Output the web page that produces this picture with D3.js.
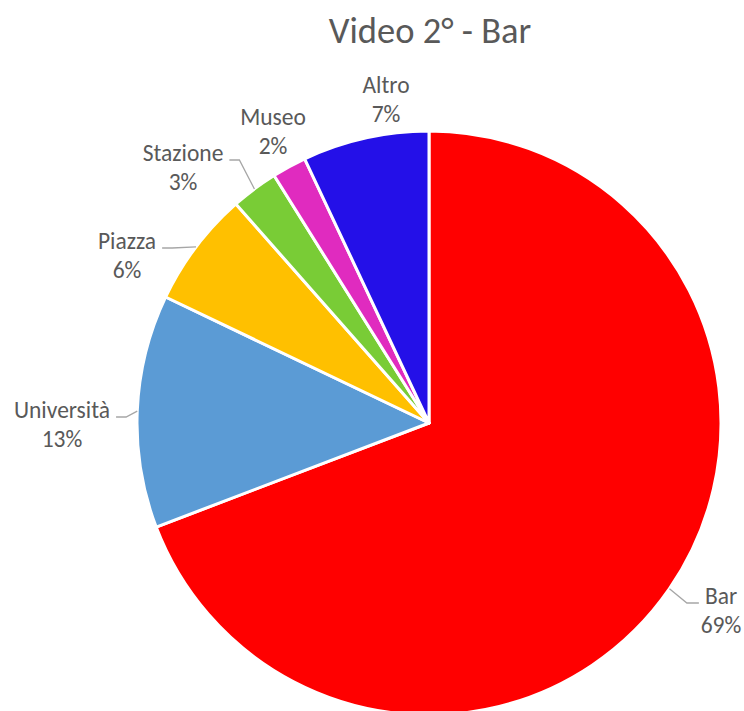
<!DOCTYPE html>
<html>
<head>
<meta charset="utf-8">
<script src="https://cdn.jsdelivr.net/npm/d3@7/dist/d3.min.js"></script>
<style>
  html, body { margin: 0; padding: 0; background: #ffffff; }
  svg { display: block; font-family: Calibri, Carlito, Lato, "Open Sans", sans-serif; }
</style>
</head>
<body>
<svg id="chart" width="744" height="711"></svg>
<script>
// Destinations seen in the second video (share of responses, %)
const categories = ["Bar", "Università", "Piazza", "Stazione", "Museo", "Altro"];
const values = [69.2, 12.9, 6.4, 2.6, 1.9, 7.0];
const colors = ["#ff0000", "#5b9bd5", "#ffc000", "#79cc36", "#e02bbf", "#2410e8"];
const title = "Video 2° - Bar";

// Label placement: centre x and first-line baseline, and whether a leader line is drawn
const labelPos = [
  { x: 721, y: 604, leader: true },
  { x: 62, y: 418, leader: true },
  { x: 127, y: 249, leader: true },
  { x: 183, y: 161, leader: true },
  { x: 273, y: 125, leader: false },
  { x: 386, y: 93, leader: false }
];

const svg = d3.select("#chart");
const cx = 429, cy = 423, radius = 292;

svg.append("text")
  .attr("x", 430).attr("y", 43)
  .attr("text-anchor", "middle")
  .attr("fill", "#595959")
  .attr("font-size", 36.5)
  .text(title);

const total = d3.sum(values);
const data = categories.map((c, i) => ({ name: c, value: values[i], color: colors[i], pos: labelPos[i] }));

const pie = d3.pie().value(d => d.value).sort(null);
const arcs = pie(data);
const arc = d3.arc().innerRadius(0).outerRadius(radius);

const g = svg.append("g").attr("transform", `translate(${cx},${cy})`);

g.selectAll("path.slice")
  .data(arcs)
  .join("path")
  .attr("class", "slice")
  .attr("d", arc)
  .attr("fill", d => d.data.color)
  .attr("stroke", "#ffffff")
  .attr("stroke-width", 3)
  .attr("stroke-linejoin", "round");

// Category and percentage labels
const leaderArc = d3.arc().innerRadius(radius).outerRadius(radius);
arcs.forEach(a => {
  const p = a.data.pos;
  const t = svg.append("text")
    .attr("text-anchor", "middle")
    .attr("fill", "#595959")
    .attr("font-size", 23.5);
  const first = t.append("tspan").attr("x", p.x).attr("y", p.y).text(a.data.name);
  t.append("tspan").attr("x", p.x).attr("y", p.y + 29)
    .text(Math.round(a.data.value / total * 100) + "%");

  // Leader line: arc midpoint -> elbow -> short horizontal stub beside the label
  if (!p.leader) return;
  const half = first.node().getComputedTextLength() / 2;
  const [ex, ey] = leaderArc.centroid(a);
  const ly = p.y - 1 - cy;
  const onRight = (p.x - cx) > ex;
  const stubEnd = onRight ? p.x - half - 6 - cx : p.x + half + 6 - cx;
  const stubStart = onRight ? stubEnd - 12 : stubEnd + 10;
  g.append("polyline")
    .attr("points", [[ex, ey], [stubStart, ly], [stubEnd, ly]].map(q => q.join(",")).join(" "))
    .attr("fill", "none")
    .attr("stroke", "#a6a6a6")
    .attr("stroke-width", 1.3);
});
</script>
</body>
</html>
